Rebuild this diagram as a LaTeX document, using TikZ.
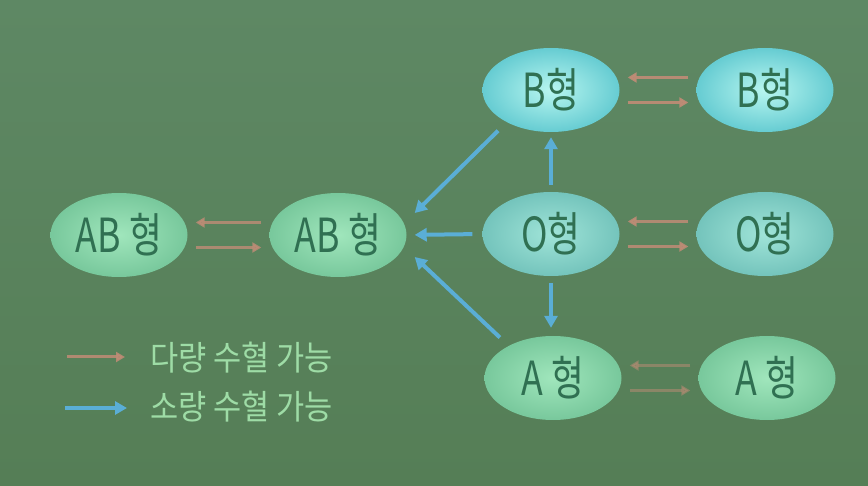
\documentclass[tikz,border=0pt]{standalone}
\usepackage{fontspec}
\setmainfont{Noto Sans CJK KR}
\newfontfamily\bloodfont[FakeStretch=0.76]{Noto Sans CJK KR}
\newfontfamily\legendfont[FakeStretch=0.9]{Noto Sans CJK KR}
\usetikzlibrary{shapes.geometric,arrows.meta}

\begin{document}
\begin{tikzpicture}[x=1pt, y=-1pt,
    blood/.style={ellipse, minimum width=137pt, minimum height=84pt, inner sep=0pt,
      text=ctext, font=\bloodfont\fontsize{47}{52}\selectfont},
    manyarr/.style={draw=cred, line width=3pt, shorten <=8pt, shorten >=8pt,
      -{Triangle[width=10pt,length=9pt]}},
    fewarr/.style={draw=cblue, line width=4pt, -{Triangle[width=13pt,length=12pt]}},
    legend/.style={anchor=west, text=clegend, inner sep=0pt,
      font=\legendfont\fontsize{34}{38}\selectfont}]
  \definecolor{bgt}{HTML}{5E8864}
  \definecolor{bgb}{HTML}{557E56}
  \definecolor{ctext}{HTML}{307052}
  \definecolor{clegend}{HTML}{9EDCA6}
  \definecolor{cred}{HTML}{C08C76}
  \definecolor{cblue}{HTML}{5AAED6}
  \definecolor{cBi}{HTML}{B8F6F0}
  \definecolor{cBo}{HTML}{66CCD2}
  \definecolor{cOi}{HTML}{A0E4D8}
  \definecolor{cOo}{HTML}{74C4BC}
  \definecolor{cAi}{HTML}{A0E6BC}
  \definecolor{cAo}{HTML}{78C89C}

  \shade[top color=bgt, bottom color=bgb] (0,0) rectangle (868,486);

  % blood type ellipses
  \foreach \n/\x/\y/\t/\ci/\co in {
    lAB/119/235/AB 형/cAi/cAo,
    rAB/338/235/AB 형/cAi/cAo,
    lB/551/90/B형/cBi/cBo,
    rB/765/90/B형/cBi/cBo,
    lO/551/234/O형/cOi/cOo,
    rO/765/234/O형/cOi/cOo,
    lA/553/378/A 형/cAi/cAo,
    rA/767/378/A 형/cAi/cAo}{
      \node[blood, inner color=\ci, outer color=\co] (\n) at (\x,\y) {\t};
    }

  % large transfusion, both ways
  \foreach \p/\o in {B/0.9, O/0.85, A/0.5, AB/0.8}{
    \draw[manyarr, opacity=\o] ([yshift=12.5pt]r\p.west) -- ([yshift=12.5pt]l\p.east);
    \draw[manyarr, opacity=\o] ([yshift=-12.5pt]l\p.east) -- ([yshift=-12.5pt]r\p.west);
  }

  % small transfusion
  \draw[fewarr, shorten <=7pt, shorten >=5pt] (lO.north) -- (lB.south);
  \draw[fewarr, shorten <=7pt, shorten >=8pt] (lO.south) -- (lO.south |- lA.north);
  \draw[fewarr, shorten <=10pt, shorten >=8pt] (lO.west) -- (rAB.east);
  \draw[fewarr, shorten <=12pt] (lB.216) -- ([shift={(8,-22)}]rAB.east);
  \draw[fewarr, shorten <=12pt] (lA.144) -- ([shift={(8,22)}]rAB.east);

  % legend
  \coordinate (m0) at (67,357);
  \coordinate (m1) at (125,357);
  \coordinate (f0) at (65,408);
  \coordinate (f1) at (127,408);
  \draw[draw=cred, opacity=0.85, line width=3pt, -{Triangle[width=10pt,length=9pt]}] (m0) -- (m1);
  \draw[fewarr, line width=3.5pt] (f0) -- (f1);
  \node[legend] (many) at (150,358) {다량 수혈 가능};
  \node[legend] (few) at (150,407) {소량 수혈 가능};
\end{tikzpicture}
\end{document}
